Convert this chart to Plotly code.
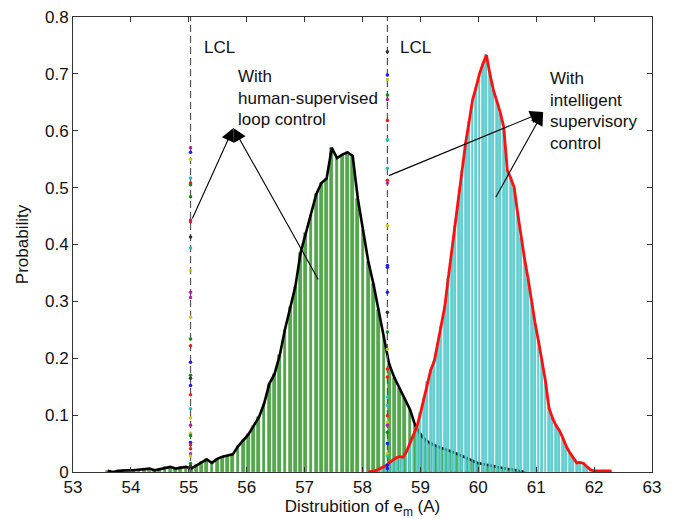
import plotly.graph_objects as go

# ---- data ----
green_x = [53.60, 53.69, 53.78, 53.87, 53.96, 54.05, 54.14, 54.23, 54.32, 54.41,
           54.50, 54.59, 54.68, 54.77, 54.86, 54.95, 55.04, 55.13, 55.22, 55.31,
           55.40, 55.49, 55.58, 55.67, 55.76, 55.85, 55.94, 56.03, 56.12, 56.21,
           56.30, 56.39, 56.48, 56.57, 56.66, 56.75, 56.84, 56.93, 57.02, 57.11,
           57.20, 57.29, 57.38, 57.47, 57.56, 57.65, 57.74, 57.83, 57.92, 58.01,
           58.10, 58.19, 58.28, 58.37, 58.46, 58.55, 58.64, 58.73, 58.82, 58.91,
           59.00, 59.09, 59.18, 59.27, 59.36, 59.45, 59.54, 59.63, 59.72, 59.81,
           59.90, 59.99, 60.08, 60.17, 60.26, 60.35, 60.44, 60.53, 60.62, 60.71,
           60.80]
green_p = [0.002, 0.000, 0.002, 0.003, 0.003, 0.003, 0.004, 0.005, 0.006, 0.003,
           0.005, 0.008, 0.009, 0.006, 0.008, 0.009, 0.006, 0.012, 0.017, 0.022,
           0.016, 0.023, 0.027, 0.029, 0.031, 0.045, 0.056, 0.066, 0.081, 0.096,
           0.120, 0.155, 0.172, 0.205, 0.250, 0.290, 0.326, 0.385, 0.420, 0.452,
           0.488, 0.508, 0.516, 0.570, 0.552, 0.558, 0.562, 0.556, 0.480, 0.425,
           0.370, 0.330, 0.285, 0.240, 0.190, 0.166, 0.148, 0.130, 0.110, 0.082,
           0.066, 0.056, 0.050, 0.046, 0.042, 0.039, 0.036, 0.032, 0.028, 0.024,
           0.020, 0.016, 0.014, 0.012, 0.011, 0.009, 0.007, 0.005, 0.004, 0.002,
           0.000]

cyan_x = [58.10, 58.16, 58.22, 58.28, 58.34, 58.40, 58.46, 58.52, 58.58, 58.64,
          58.70, 58.76, 58.82, 58.88, 58.94, 59.00, 59.06, 59.12, 59.18, 59.24,
          59.30, 59.36, 59.42, 59.48, 59.54, 59.60, 59.66, 59.72, 59.78, 59.84,
          59.90, 59.96, 60.02, 60.08, 60.14, 60.20, 60.26, 60.32, 60.38, 60.44,
          60.50, 60.56, 60.62, 60.68, 60.74, 60.80, 60.86, 60.92, 60.98, 61.04,
          61.10, 61.16, 61.22, 61.28, 61.34, 61.40, 61.46, 61.52, 61.58, 61.64,
          61.70, 61.76, 61.82, 61.88, 61.94, 62.00, 62.06, 62.12, 62.18, 62.24,
          62.30]
cyan_p = [0.000, 0.001, 0.002, 0.005, 0.008, 0.011, 0.016, 0.020, 0.025, 0.027,
          0.026, 0.036, 0.050, 0.063, 0.080, 0.103, 0.130, 0.158, 0.180, 0.195,
          0.225, 0.257, 0.290, 0.340, 0.385, 0.432, 0.483, 0.530, 0.578, 0.615,
          0.654, 0.676, 0.700, 0.718, 0.733, 0.700, 0.672, 0.652, 0.632, 0.606,
          0.531, 0.517, 0.500, 0.455, 0.412, 0.374, 0.340, 0.297, 0.262, 0.230,
          0.198, 0.160, 0.113, 0.095, 0.082, 0.073, 0.060, 0.045, 0.034, 0.025,
          0.016, 0.017, 0.015, 0.009, 0.004, 0.002, 0.002, 0.002, 0.002, 0.002,
          0.002]

lcl_x = [55.03, 58.43]
lcl_labels = ["LCL", "LCL"]

left_dots_y = [0.570, 0.562, 0.550, 0.517, 0.508, 0.505, 0.484, 0.443, 0.440, 0.413,
               0.394, 0.354, 0.316, 0.307, 0.272, 0.234, 0.222, 0.193, 0.170, 0.165,
               0.152, 0.136, 0.111, 0.095, 0.082, 0.068, 0.064, 0.052, 0.048, 0.041,
               0.032, 0.028, 0.015, 0.010]
left_dots_c = ["m", "b", "y", "c", "r", "g", "g", "m", "r", "k",
               "c", "y", "m", "m", "y", "g", "r", "b", "g", "k",
               "b", "r", "c", "y", "m", "y", "g", "b", "r", "r",
               "m", "y", "g", "k"]
right_dots_y = [0.739, 0.698, 0.690, 0.663, 0.655, 0.618, 0.584, 0.534, 0.513, 0.508,
                0.433, 0.363, 0.360, 0.316, 0.281, 0.246, 0.216, 0.181, 0.167, 0.132,
                0.117, 0.099, 0.088, 0.082, 0.070, 0.050, 0.032, 0.028, 0.012, 0.006]
right_dots_c = ["k", "b", "y", "g", "m", "r", "c", "c", "r", "m",
                "y", "b", "b", "b", "k", "g", "y", "r", "r", "c",
                "c", "r", "y", "m", "g", "b", "y", "c", "b", "b"]

text_left = ["With", "human-supervised", "loop control"]
text_right = ["With", "intelligent", "supervisory", "control"]

x_ticks = [53, 54, 55, 56, 57, 58, 59, 60, 61, 62, 63]
y_ticks = [0, 0.1, 0.2, 0.3, 0.4, 0.5, 0.6, 0.7, 0.8]

# ---- styling ----
FONT = "Liberation Sans, Arial, sans-serif"
FS = 17
cmap = {"b": "#1a1aff", "g": "#108a10", "r": "#ff1a1a", "c": "#20c0c0",
        "m": "#b020b0", "y": "#c8c820", "k": "#333333"}

fig = go.Figure()

# bottom layer: green histogram + black outline
fig.add_trace(go.Bar(x=green_x, y=green_p, width=0.048,
                     marker=dict(color="#55aa4c", line=dict(color="#2f8a2a", width=0.6)),
                     showlegend=False))
fig.add_trace(go.Scatter(x=green_x, y=green_p, mode="lines",
                         line=dict(color="black", width=2.6), showlegend=False))

# top layer (overlaid axes): cyan histogram, red outline, LCL lines and dots
fig.add_trace(go.Bar(x=cyan_x, y=cyan_p, width=0.033, xaxis="x2", yaxis="y2",
                     marker=dict(color="#66d6d6", line=dict(color="#35b8b8", width=0.6)),
                     showlegend=False))
fig.add_trace(go.Scatter(x=cyan_x, y=cyan_p, mode="lines", xaxis="x2", yaxis="y2",
                         line=dict(color="#ff1010", width=2.8), showlegend=False))

for lx in lcl_x:
    fig.add_trace(go.Scatter(x=[lx, lx], y=[y_ticks[0], y_ticks[-1]], mode="lines",
                             xaxis="x2", yaxis="y2",
                             line=dict(color="#555555", width=1.2, dash="7px,4px"),
                             showlegend=False))

fig.add_trace(go.Scatter(x=[lcl_x[0]] * len(left_dots_y), y=left_dots_y, mode="markers",
                         xaxis="x2", yaxis="y2",
                         marker=dict(size=3.5, color=[cmap[c] for c in left_dots_c]),
                         showlegend=False))
fig.add_trace(go.Scatter(x=[lcl_x[1]] * len(right_dots_y), y=right_dots_y, mode="markers",
                         xaxis="x2", yaxis="y2",
                         marker=dict(size=3.5, color=[cmap[c] for c in right_dots_c]),
                         showlegend=False))

annotations = []
for lx, lab in zip(lcl_x, lcl_labels):
    annotations.append(dict(x=lx + 0.19, y=0.747, text=lab, showarrow=False,
                            xanchor="left", yanchor="middle",
                            font=dict(family=FONT, size=FS, color="#111")))
for i, t in enumerate(text_left):
    annotations.append(dict(x=55.82, y=0.695 - i * 0.0375, text=t, showarrow=False,
                            xanchor="left", yanchor="middle",
                            font=dict(family=FONT, size=FS, color="#111")))
for i, t in enumerate(text_right):
    annotations.append(dict(x=61.2, y=0.691 - i * 0.0378, text=t, showarrow=False,
                            xanchor="left", yanchor="middle",
                            font=dict(family=FONT, size=FS, color="#111")))

arrows = [((55.77, 0.605), (55.05, 0.443)),
          ((55.77, 0.605), (57.25, 0.336)),
          ((61.12, 0.633), (58.43, 0.520)),
          ((61.12, 0.633), (60.29, 0.481))]
for (hx, hy), (tx, ty) in arrows:
    annotations.append(dict(x=hx, y=hy, ax=tx, ay=ty, xref="x", yref="y",
                            axref="x", ayref="y", text="", showarrow=True,
                            arrowhead=2, arrowsize=2.4, arrowwidth=1.1,
                            arrowcolor="black"))

fig.update_layout(
    width=675, height=519,
    margin=dict(l=73, r=23, t=17, b=47),
    paper_bgcolor="white", plot_bgcolor="white",
    barmode="overlay", bargap=0,
    font=dict(family=FONT, size=FS, color="#111"),
    annotations=annotations,
    showlegend=False,
)
axis_common = dict(showline=True, linecolor="#333333", linewidth=1, mirror="ticks",
                   ticks="inside", ticklen=5, tickcolor="#333333", showgrid=False,
                   zeroline=False, automargin=False,
                   tickfont=dict(family=FONT, size=FS, color="#111"))
fig.update_xaxes(range=[53, 63], tickvals=x_ticks, ticktext=[str(v) for v in x_ticks],
                 ticklabelstandoff=0,
                 title=dict(text="Distrubition of e<sub>m</sub> (A)", standoff=5,
                            font=dict(family=FONT, size=FS)),
                 **axis_common)
fig.update_yaxes(range=[0, 0.8], tickvals=y_ticks, ticktext=[("%g" % v) for v in y_ticks],
                 title=dict(text="Probability", standoff=12,
                            font=dict(family=FONT, size=FS)),
                 **axis_common)
fig.update_layout(
    xaxis2=dict(overlaying="x", range=[53, 63], visible=False),
    yaxis2=dict(overlaying="y", range=[0, 0.8], visible=False),
)

fig.write_html("out.html")
